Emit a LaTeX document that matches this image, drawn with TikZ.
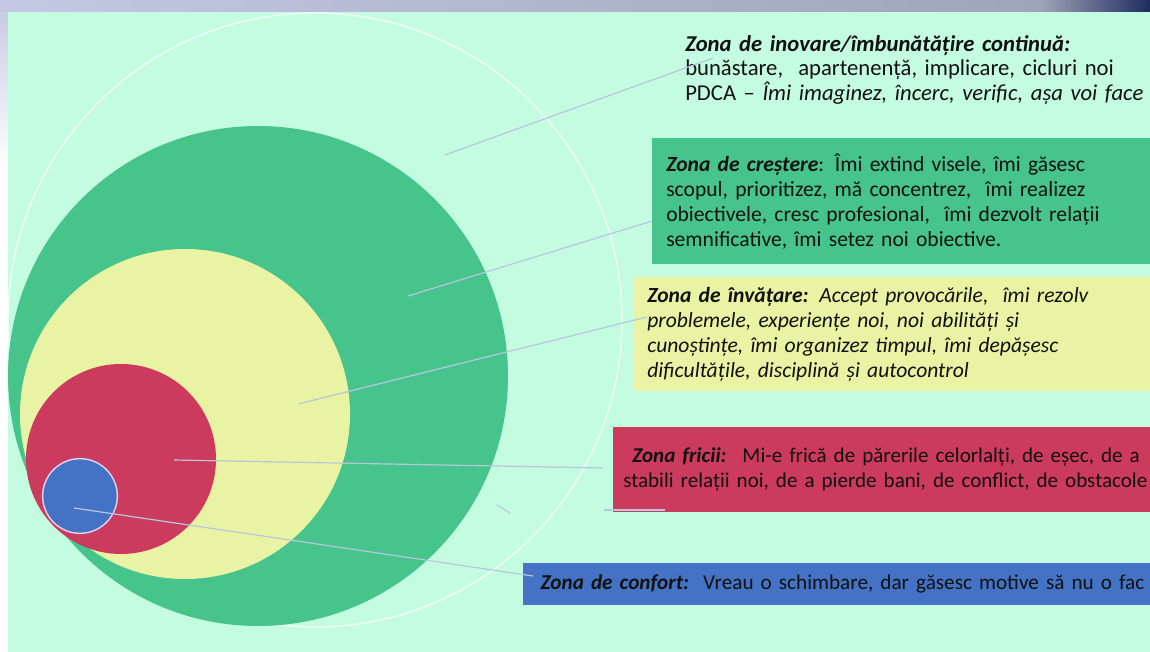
\documentclass[tikz,border=0pt]{standalone}
\usepackage{fontspec}
\setmainfont{Carlito}
\definecolor{menta}{HTML}{C4FCE2}
\definecolor{verde}{HTML}{47C48B}
\definecolor{galben}{HTML}{E8F3A3}
\definecolor{rosu}{HTML}{CC3B5E}
\definecolor{albastru}{HTML}{4472C4}
\definecolor{liniegri}{HTML}{B7C7DB}
\definecolor{conturalb}{HTML}{EEFFF7}
\definecolor{textnegru}{HTML}{111111}
\newcommand{\zonefont}{\fontsize{16.2}{18.75}\selectfont}
\newcommand{\zn}[1]{\textbf{\textit{#1}}}

\begin{document}
\begin{tikzpicture}[x=0.75pt,y=-0.75pt,
   zona/.style={circle,inner sep=0pt},
   cutie/.style={anchor=north west,inner xsep=10.5pt,inner ysep=0pt,align=left,
      text width=470pt,font=\zonefont,text=textnegru},
   linie/.style={draw=liniegri,line width=0.9pt}]
\useasboundingbox (0,0) rectangle (1150,652);
\clip (0,0) rectangle (1150,652);
\fill[white] (0,0) rectangle (1150,652);
\shade[top color={rgb,255:red,200;green,204;blue,228},bottom color=white] (0,12) rectangle (8,170);
\shade[left color={rgb,255:red,196;green,200;blue,228},right color={rgb,255:red,160;green,164;blue,184}] (0,0) rectangle (1040,12);
\shade[left color={rgb,255:red,160;green,164;blue,184},right color={rgb,255:red,30;green,45;blue,95}] (1040,0) rectangle (1150,12);
\fill[menta] (8,12) rectangle (1150,652);

\node[zona,draw=conturalb,line width=1.1pt,minimum size=460.5pt] (inovare) at (315,320) {};
\node[zona,fill=verde,minimum size=375pt] (crestere) at (258,376) {};
\node[zona,fill=galben,minimum size=247.5pt] (invatare) at (185,414) {};
\node[zona,fill=rosu,minimum size=142.5pt] (frica) at (121,459) {};
\node[zona,fill=albastru,draw={rgb,255:red,218;green,210;blue,240},line width=1.1pt,minimum size=56pt] (confort) at (80,496) {};

\node[cutie,minimum height=1pt,font=\fontsize{17}{18.4}\selectfont] (tinovare) at (671,35)
   {\zn{Zona de inovare/îmbunătățire continuă:}\\
    bunăstare,\ \ apartenență, implicare, cicluri noi\\
    PDCA – \textit{Îmi imaginez, încerc, verific, așa voi face}};
\node[cutie,fill=verde,minimum height=94.5pt] (tcrestere) at (652,138)
   {\zn{Zona de creștere}: Îmi extind visele, îmi găsesc\\
    scopul, prioritizez, mă concentrez,\ \ îmi realizez\\
    obiectivele, cresc profesional,\ \ îmi dezvolt relații\\
    semnificative, îmi setez noi obiective.};
\node[cutie,fill=galben,minimum height=85.5pt] (tinvatare) at (633,277)
   {\itshape\textbf{Zona de învățare:} Accept provocările,\ \ îmi rezolv\\
    problemele, experiențe noi, noi abilități și\\
    cunoștințe, îmi organizez timpul, îmi depășesc\\
    dificultățile, disciplină și autocontrol};
\node[cutie,fill=rosu,minimum height=63.75pt,inner xsep=7.5pt,font=\fontsize{15.8}{18.75}\selectfont] (tfrica) at (613,427)
   {\makebox[6.75pt]{}\zn{Zona fricii:}\hspace{12pt}Mi-e frică de părerile celorlalți, de eșec, de a\\
    stabili relații noi, de a pierde bani, de conflict, de obstacole};
\node[cutie,fill=albastru,minimum height=31.5pt,inner xsep=13pt,font=\fontsize{15.9}{18.75}\selectfont] (tconfort) at (523,563)
   {\zn{Zona de confort:}\ \ Vreau o schimbare, dar găsesc motive să nu o fac};

\coordinate (a1) at (445,155);  \coordinate (b1) at (713,58);
\coordinate (a2) at (408,296);  \coordinate (b2) at (652,221);
\coordinate (a3) at (298,404);  \coordinate (b3) at (647,317);
\coordinate (a4) at (174,460);  \coordinate (b4) at (603,468);
\coordinate (a5) at (74,508);   \coordinate (b5) at (533,576);
\draw[linie] (a1) -- (b1);
\draw[linie] (a2) -- (b2);
\draw[linie] (a3) -- (b3);
\draw[linie] (a4) -- (b4);
\draw[linie] (a5) -- (b5);
\coordinate (c1) at (497,505);  \coordinate (d1) at (510,513);
\coordinate (c2) at (604,510);  \coordinate (d2) at (665,510);
\draw[linie] (c1) -- (d1);
\draw[linie] (c2) -- (d2);
\end{tikzpicture}
\end{document}
